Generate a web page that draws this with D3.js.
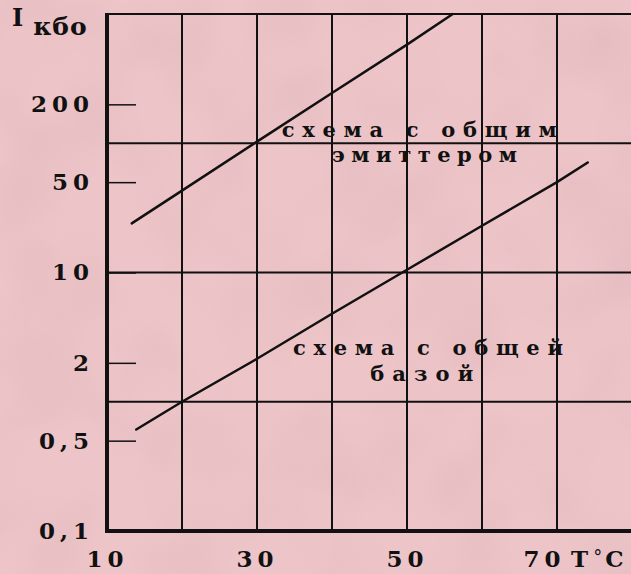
<!DOCTYPE html>
<html>
<head>
<meta charset="utf-8">
<script src="https://cdn.jsdelivr.net/npm/d3@7"></script>
<style>
  html, body { margin: 0; padding: 0; background: #e8bec2; }
  svg { display: block; }
  .lbl { font-family: "DejaVu Serif", "Liberation Serif", serif; font-weight: bold; fill: #111; }
</style>
</head>
<body>
<script>
// temperature grid (deg C) and current scale (log)
var gridT = [20, 30, 40, 50, 60, 70];
var gridI = [1, 10, 100];
var tickT = [10, 30, 50, 70];
var tickI = [200, 50, 10, 2, 0.5, 0.1];

// common emitter curve
var emitterT = [13.3, 20, 30, 40, 50, 56.1];
var emitterI = [24, 43, 103, 245, 580, 1000];
// common base curve
var baseT = [13.9, 20, 30, 40, 50, 60, 70, 74.1];
var baseI = [0.61, 1.0, 2.15, 4.8, 10.5, 23, 50, 71];

// annotation texts, anchored in data coordinates (start of line)
var noteText = ["схема с общим", "эмиттером", "схема с общей", "базой"];
var noteT = [33.3, 40, 34.8, 45.1];
var noteI = [111, 71, 2.3, 1.45];
var noteLen = [275, 185, 270, 103];

(function(){
  const W = 631, H = 574;
  var x = d3.scaleLinear().domain([10, 80]).range([107, 632]);
  var y = d3.scaleLog().domain([0.1, 1000]).range([531, 14]);

  var svg = d3.select('body').append('svg')
    .attr('width', W).attr('height', H);

  // blotchy paper background
  var defs = svg.append('defs');
  var f = defs.append('filter').attr('id', 'blot')
    .attr('x', 0).attr('y', 0).attr('width', '100%').attr('height', '100%');
  f.append('feTurbulence').attr('type', 'fractalNoise')
    .attr('baseFrequency', 0.012).attr('numOctaves', 2).attr('seed', 7);
  f.append('feColorMatrix').attr('type', 'matrix')
    .attr('values', '0 0 0 0 0.55  0 0 0 0 0.3  0 0 0 0 0.33  1.4 0 0 0 -0.55');
  svg.append('rect').attr('width', W).attr('height', H).attr('fill', '#edc5c8');
  svg.append('rect').attr('width', W).attr('height', H)
    .attr('filter', 'url(#blot)').attr('opacity', 0.25);

  var g = svg.append('g');

  // vertical grid
  g.selectAll('line.vgrid').data(gridT).enter().append('line')
    .attr('class', 'vgrid')
    .attr('x1', function(d){ return x(d); }).attr('x2', function(d){ return x(d); })
    .attr('y1', y(1000)).attr('y2', y(0.1))
    .attr('stroke', '#111').attr('stroke-width', 2);
  // horizontal grid
  g.selectAll('line.hgrid').data(gridI).enter().append('line')
    .attr('class', 'hgrid')
    .attr('x1', x(10)).attr('x2', W)
    .attr('y1', function(d){ return y(d); }).attr('y2', function(d){ return y(d); })
    .attr('stroke', '#111').attr('stroke-width', 2);
  // top border
  g.append('line').attr('x1', x(10)).attr('x2', W)
    .attr('y1', y(1000)).attr('y2', y(1000))
    .attr('stroke', '#111').attr('stroke-width', 2);

  // y axis with short inner ticks
  var yAxis = g.append('g')
    .attr('transform', 'translate(' + x(10) + ',0)')
    .call(d3.axisLeft(y).tickValues(tickI).tickSizeInner(-29).tickSizeOuter(0).tickPadding(13)
      .tickFormat(function(d){ return String(d).replace('.', ','); }));
  yAxis.select('.domain').remove();
  yAxis.selectAll('.tick line').attr('stroke', '#111').attr('stroke-width', 1.5);
  yAxis.selectAll('.tick text').attr('class', 'lbl')
    .style('font-size', '23px').style('letter-spacing', '5px');

  // x axis labels
  var xAxis = g.append('g')
    .attr('transform', 'translate(0,' + y(0.1) + ')')
    .call(d3.axisBottom(x).tickValues(tickT).tickSize(0).tickPadding(20));
  xAxis.select('.domain').remove();
  xAxis.selectAll('.tick text').attr('class', 'lbl')
    .style('font-size', '23px').style('letter-spacing', '5px');
  xAxis.selectAll('.tick text').filter(function(d){ return d === 70; })
    .attr('text-anchor', 'end').attr('dx', '8');

  // heavy axis lines
  g.append('line').attr('x1', x(10)).attr('x2', x(10))
    .attr('y1', y(1000) - 1).attr('y2', y(0.1) + 2)
    .attr('stroke', '#111').attr('stroke-width', 4);
  g.append('line').attr('x1', x(10) - 2).attr('x2', W)
    .attr('y1', y(0.1)).attr('y2', y(0.1))
    .attr('stroke', '#111').attr('stroke-width', 4);

  // axis titles
  var yt = g.append('text').attr('class', 'lbl').attr('x', 12).attr('y', 26);
  yt.append('tspan').style('font-size', '24px').text('I');
  yt.append('tspan').attr('dx', 10).attr('dy', 9).style('font-size', '25px')
    .style('letter-spacing', '1px').text('кбо');
  var tt = g.append('text').attr('class', 'lbl').attr('x', 571).attr('y', 567)
    .style('font-size', '23px');
  tt.append('tspan').text('T');
  tt.append('tspan').attr('dx', 5).attr('dy', -4).style('font-size', '18px').style('font-weight', 'normal').text('°');
  tt.append('tspan').attr('dx', 3).attr('dy', 4).text('C');

  // curves
  var line = d3.line()
    .x(function(d){ return x(d[0]); })
    .y(function(d){ return y(d[1]); });
  var curves = [d3.zip(emitterT, emitterI), d3.zip(baseT, baseI)];
  g.selectAll('path.curve').data(curves).enter().append('path')
    .attr('class', 'curve')
    .attr('d', line)
    .attr('fill', 'none').attr('stroke', '#111').attr('stroke-width', 2.5)
    .attr('stroke-linecap', 'round');

  // annotations
  g.selectAll('text.note').data(noteText).enter().append('text')
    .attr('class', 'lbl note')
    .attr('x', function(d, i){ return x(noteT[i]); })
    .attr('y', function(d, i){ return y(noteI[i]); })
    .attr('textLength', function(d, i){ return noteLen[i]; })
    .attr('lengthAdjust', 'spacing')
    .style('font-size', '21px')
    .text(function(d){ return d; });
})();
</script>
</body>
</html>
